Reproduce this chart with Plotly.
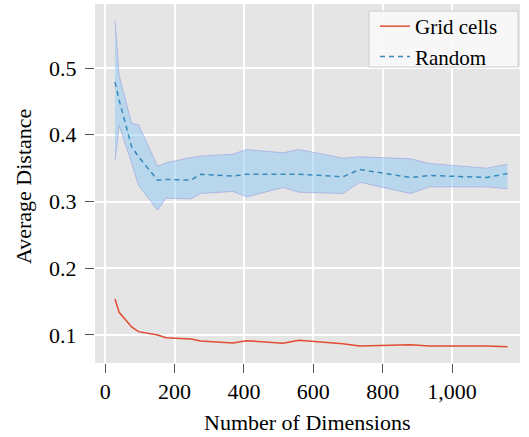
import plotly.graph_objects as go

dims = [28, 40, 76, 96, 151, 175, 247, 275, 368, 408, 513, 558, 685, 734, 880, 935, 1100, 1160]
grid_cells = [0.154, 0.134, 0.112, 0.105, 0.100, 0.096, 0.094, 0.091, 0.088, 0.0915,
              0.0875, 0.092, 0.087, 0.0835, 0.0855, 0.0835, 0.0835, 0.0825]
random_mean = [0.479, 0.452, 0.382, 0.367, 0.332, 0.333, 0.332, 0.341, 0.338, 0.341,
               0.341, 0.341, 0.337, 0.348, 0.336, 0.339, 0.336, 0.342]
random_upper = [0.571, 0.489, 0.417, 0.415, 0.353, 0.358, 0.366, 0.368, 0.371, 0.378,
                0.373, 0.378, 0.365, 0.367, 0.364, 0.357, 0.350, 0.356]
random_lower = [0.361, 0.414, 0.358, 0.324, 0.287, 0.305, 0.304, 0.312, 0.315, 0.307,
                0.321, 0.314, 0.312, 0.329, 0.312, 0.322, 0.322, 0.319]

FONT = "Liberation Serif"
FS = 22
W, H = 529, 437
ML, MR, MT, MB = 95, 9, 4, 74

fig = go.Figure()
fig.add_trace(go.Scatter(x=dims, y=random_upper, mode="lines",
                         line=dict(color="rgba(150,150,225,0.55)", width=1),
                         showlegend=False, hoverinfo="skip"))
fig.add_trace(go.Scatter(x=dims, y=random_lower, mode="lines",
                         line=dict(color="rgba(150,150,225,0.55)", width=1),
                         fill="tonexty", fillcolor="rgba(141,201,243,0.5)",
                         showlegend=False, hoverinfo="skip"))
fig.add_trace(go.Scatter(x=dims, y=grid_cells, mode="lines", name="Grid cells",
                         line=dict(color="#E24A33", width=1.5)))
fig.add_trace(go.Scatter(x=dims, y=random_mean, mode="lines", name="Random",
                         line=dict(color="#348ABD", width=1.5, dash="5px,4px")))

pw = W - ML - MR
ph = H - MT - MB


def px_x(p):
    return (p - ML) / pw


def px_y(p):
    return (H - MB - p) / ph


fig.update_layout(
    width=W, height=H,
    margin=dict(l=ML, r=MR, t=MT, b=MB, autoexpand=False),
    paper_bgcolor="white", plot_bgcolor="#E5E5E5",
    font=dict(family=FONT, size=FS, color="black"),
    legend=dict(x=px_x(375), y=px_y(6), xanchor="left", yanchor="top",
                bgcolor="rgba(0,0,0,0)", borderwidth=0,
                font=dict(size=21), traceorder="normal", tracegroupgap=0),
    xaxis=dict(range=[-29.6, 1196], tickvals=[0, 200, 400, 600, 800, 1000],
               tickformat=",", showgrid=True, gridcolor="white", gridwidth=1.5,
               zeroline=False, ticks="outside", ticklen=9, tickcolor="#555555",
               automargin=False),
    yaxis=dict(range=[0.058, 0.596], tickvals=[0.1, 0.2, 0.3, 0.4, 0.5],
               showgrid=True, gridcolor="white", gridwidth=1.5,
               zeroline=False, ticks="outside", ticklen=9, tickcolor="#555555",
               ticklabelstandoff=4, automargin=False),
    shapes=[dict(type="rect", xref="paper", yref="paper", layer="above",
                 x0=px_x(369), x1=px_x(518), y0=px_y(67), y1=px_y(11),
                 fillcolor="rgba(248,248,248,0.92)", line=dict(color="#CCCCCC", width=1))],
    annotations=[
        dict(text="Number of Dimensions", xref="paper", yref="paper",
             x=px_x(307), y=px_y(423), xanchor="center", yanchor="middle",
             showarrow=False, font=dict(size=FS)),
        dict(text="Average Distance", xref="paper", yref="paper",
             x=px_x(23), y=px_y(187), xanchor="center", yanchor="middle",
             textangle=-90, showarrow=False, font=dict(size=FS)),
    ],
)
fig.write_html("out.html", config={"displayModeBar": False},
               post_script="document.body.style.margin='0';document.body.style.overflow='hidden';")
